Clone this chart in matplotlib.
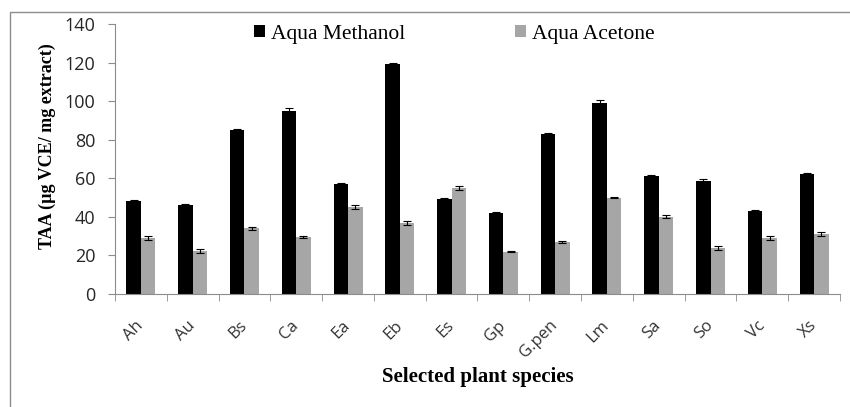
import numpy as np
import matplotlib.pyplot as plt
from matplotlib.patches import Rectangle

especies = ['Ah', 'Au', 'Bs', 'Ca', 'Ea', 'Eb', 'Es', 'Gp', 'G.pen', 'Lm', 'Sa', 'So', 'Vc', 'Xs']
metanol = [48, 46, 85, 95, 57, 119.5, 49.5, 42, 83, 99, 61, 58.5, 43, 62]
metanol_err = [0.5, 0.5, 0.5, 1.5, 0.5, 0.5, 0.3, 0.3, 0.5, 1.8, 0.5, 1.2, 0.5, 0.5]
acetona = [29, 22.5, 34, 29.5, 45, 37, 55, 22, 27, 50, 40, 24, 29, 31]
acetona_err = [1.0, 1.0, 1.0, 0.4, 1.0, 1.0, 1.0, 0.4, 0.4, 0.4, 0.8, 1.0, 1.0, 1.0]

fig = plt.figure(figsize=(8.5, 4.07), dpi=100)
ax = fig.add_axes([115/850, 1-294/407, 725/850, 270/407])

# marco exterior del gráfico
fig.patches.append(Rectangle((10/850, -0.05), 1.2, 1-12/407+0.05, transform=fig.transFigure,
                             fill=False, edgecolor='#8c8c8c', linewidth=1.0))

x = np.arange(len(especies))
w = 0.28
err_kw = dict(ecolor='black', elinewidth=0.8, capsize=3, capthick=0.8)
ax.bar(x - w/2, metanol, w, yerr=metanol_err, color='black', label='Aqua Methanol', error_kw=err_kw)
ax.bar(x + w/2, acetona, w, yerr=acetona_err, color='#a6a6a6', label='Aqua Acetone', error_kw=err_kw)

ax.set_xlim(-0.5, len(especies) - 0.5)
ax.set_ylim(0, 140)
ax.set_yticks(range(0, 141, 20))
ax.set_xticks(x)
ax.set_xticklabels(especies, rotation=45, ha='right', va='center', rotation_mode='anchor',
                   fontsize=12, family='Open Sans', color='#333333')
ax.set_xticks(np.arange(-0.5, len(especies)), minor=True)
ax.tick_params(axis='x', which='major', length=0, pad=21)
ax.tick_params(axis='x', which='minor', length=5, color='#8c8c8c')
ax.tick_params(axis='y', length=5, color='#8c8c8c', labelsize=13, labelcolor='#262626', pad=9)
for lab in ax.get_yticklabels():
    lab.set_family('Open Sans')

for s in ['top', 'right']:
    ax.spines[s].set_visible(False)
for s in ['left', 'bottom']:
    ax.spines[s].set_color('#8c8c8c')

ax.set_ylabel('TAA (µg VCE/ mg extract)', family='Liberation Serif', fontweight='bold', fontsize=13)
ax.yaxis.set_label_coords(-0.081, 0.548)
ax.set_xlabel('Selected plant species', family='Liberation Serif', fontweight='bold', fontsize=15, labelpad=4)

fig.legend(*ax.get_legend_handles_labels(), loc='center left', bbox_to_anchor=(254/850, 1-34/407),
           ncol=2, frameon=False, borderpad=0, borderaxespad=0,
           columnspacing=5.1, handlelength=0.5, handleheight=0.5, handletextpad=0.3,
           prop={'family': 'Liberation Serif', 'size': 15.5})

plt.savefig('out.png', dpi=100)
